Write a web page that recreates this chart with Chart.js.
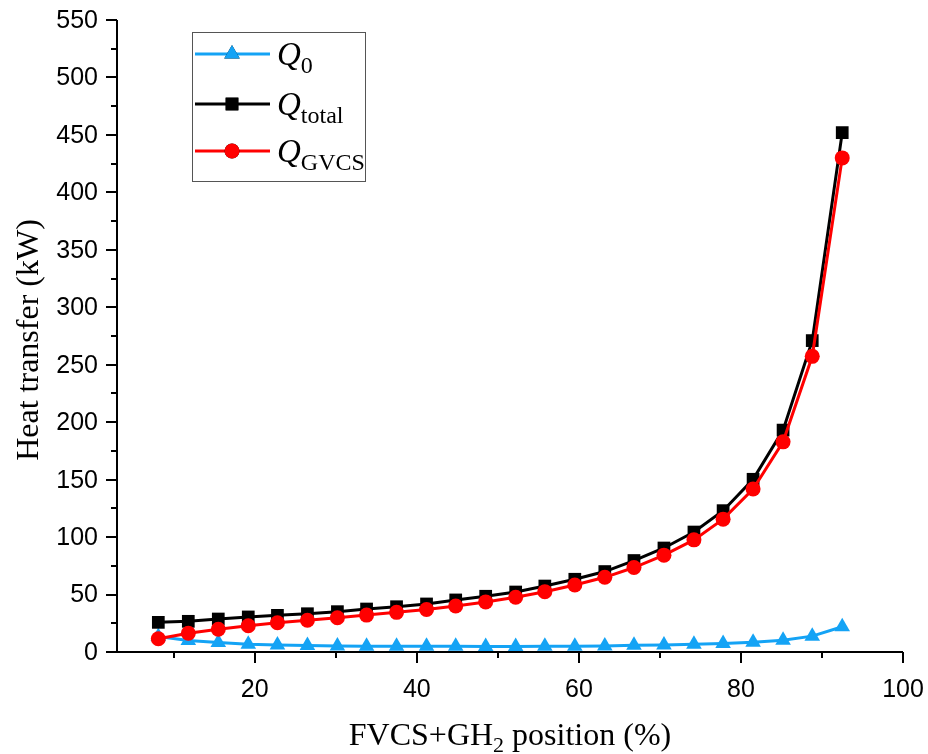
<!DOCTYPE html>
<html>
<head>
<meta charset="utf-8">
<script src="https://cdn.jsdelivr.net/npm/chart.js@4.4.1/dist/chart.umd.min.js"></script>
<style>
  html, body { margin: 0; padding: 0; background: #ffffff; }
  #wrap { width: 928px; height: 754px; }
</style>
</head>
<body>
<div id="wrap"><canvas id="c" width="928" height="754"></canvas></div>
<script>
// FVCS+GH2 position (%) for each operating point
const positions = [8.1, 11.8, 15.5, 19.2, 22.8, 26.5, 30.2, 33.8, 37.5, 41.2, 44.8, 48.5,
                   52.2, 55.8, 59.5, 63.2, 66.8, 70.5, 74.2, 77.8, 81.5, 85.2, 88.8, 92.5];
// Heat transfer (kW)
const q0     = [13.5, 10.0, 8.3, 6.8, 6.0, 5.6, 5.3, 5.1, 5.0, 4.9, 4.9, 4.8,
                4.8, 4.9, 5.0, 5.3, 5.8, 6.2, 6.8, 7.5, 8.5, 10.3, 13.8, 22.0];
const qTotal = [25.8, 26.7, 28.7, 30.5, 31.9, 33.3, 35.1, 37.4, 39.4, 41.8, 45.3, 48.5,
                52.2, 57.4, 63.3, 70.0, 79.6, 90.5, 104.4, 123.0, 150.3, 193.1, 271.0, 452.0];
const qGvcs  = [11.5, 16.3, 19.8, 22.9, 25.5, 27.6, 29.8, 32.1, 34.5, 37.0, 40.0, 43.6,
                47.6, 52.5, 58.3, 65.0, 73.5, 84.3, 97.6, 115.6, 141.9, 182.9, 257.3, 430.0];

// Axis ticks: every value gets a tick mark, labelled ones get a longer tick
const xTickValues  = [10, 20, 30, 40, 50, 60, 70, 80, 90, 100];
const xTickLabels  = [20, 40, 60, 80, 100];
const yTickValues  = [0, 25, 50, 75, 100, 125, 150, 175, 200, 225, 250, 275, 300, 325,
                      350, 375, 400, 425, 450, 475, 500, 525, 550];
const yTickLabels  = [0, 50, 100, 150, 200, 250, 300, 350, 400, 450, 500, 550];

const BLUE = '#14A3F5';
const SANS = '"Liberation Sans", Arial, sans-serif';
const SERIF = '"Liberation Serif", "Times New Roman", serif';

const toPoints = ys => positions.map((x, i) => ({ x: x, y: ys[i] }));

// Draws axis lines, tick marks, tick labels, axis titles and the legend box
const decorations = {
  id: 'decorations',
  afterDraw(chart) {
    const ctx = chart.ctx;
    const xs = chart.scales.x, ys = chart.scales.y;
    const area = chart.chartArea;
    const MAJOR = 11, MINOR = 6;
    ctx.save();
    ctx.strokeStyle = '#000';
    ctx.lineWidth = 2;
    ctx.lineCap = 'butt';

    // axis lines
    ctx.beginPath();
    ctx.moveTo(area.left, area.top);
    ctx.lineTo(area.left, area.bottom + 1);
    ctx.moveTo(area.left - 1, area.bottom);
    ctx.lineTo(area.right, area.bottom);
    ctx.stroke();

    // x ticks
    ctx.beginPath();
    xTickValues.forEach(v => {
      const px = Math.round(xs.getPixelForValue(v));
      const len = xTickLabels.includes(v) ? MAJOR : MINOR;
      ctx.moveTo(px, area.bottom);
      ctx.lineTo(px, area.bottom + len);
    });
    // y ticks
    yTickValues.forEach(v => {
      const py = Math.round(ys.getPixelForValue(v));
      const len = yTickLabels.includes(v) ? MAJOR : MINOR;
      ctx.moveTo(area.left, py);
      ctx.lineTo(area.left - len, py);
    });
    ctx.stroke();

    // tick labels
    ctx.fillStyle = '#000';
    ctx.font = '25px ' + SANS;
    ctx.textAlign = 'center';
    ctx.textBaseline = 'middle';
    xTickLabels.forEach(v => {
      ctx.fillText(String(v), xs.getPixelForValue(v), area.bottom + 38);
    });
    ctx.textAlign = 'right';
    yTickLabels.forEach(v => {
      ctx.fillText(String(v), area.left - 19, ys.getPixelForValue(v) + 1);
    });

    // x title with subscript
    const xParts = [['FVCS+GH', 32, 0], ['2', 22, 7], [' position (%)', 32, 0]];
    drawRich(ctx, xParts, (area.left + area.right) / 2, 745, SERIF, false);

    // y title
    ctx.save();
    ctx.translate(38, 340);
    ctx.rotate(-Math.PI / 2);
    ctx.font = '32px ' + SERIF;
    ctx.textAlign = 'center';
    ctx.textBaseline = 'alphabetic';
    ctx.fillText('Heat transfer (kW)', 0, 0);
    ctx.restore();

    // legend
    ctx.lineWidth = 1;
    ctx.strokeStyle = '#555';
    ctx.strokeRect(192.5, 32.5, 173, 149);
    const rows = [
      { ds: chart.data.datasets[0], y: 54, sub: '0' },
      { ds: chart.data.datasets[1], y: 104, sub: 'total' },
      { ds: chart.data.datasets[2], y: 151, sub: 'GVCS' }
    ];
    rows.forEach(r => {
      ctx.strokeStyle = r.ds.borderColor;
      ctx.lineWidth = r.ds.borderWidth;
      ctx.beginPath();
      ctx.moveTo(195, r.y);
      ctx.lineTo(270, r.y);
      ctx.stroke();
      Chart.helpers.drawPoint(ctx, {
        pointStyle: r.ds.pointStyle,
        radius: r.ds.pointRadius,
        rotation: 0,
        borderWidth: 0
      }, 232, r.y);
      ctx.fillStyle = r.ds.backgroundColor;
      ctx.fill();
      ctx.fillStyle = '#000';
      drawRich(ctx, [['Q', 33, 0, true], [r.sub, 24, 8]], 277, r.y + 11, SERIF, true);
    });
    ctx.restore();
  }
};

// Writes a run of text pieces [text, size, baselineShift, italic] starting at x (or centred)
function drawRich(ctx, parts, x, baseline, family, leftAligned) {
  ctx.textAlign = 'left';
  ctx.textBaseline = 'alphabetic';
  const fontOf = p => (p[3] ? 'italic ' : '') + p[1] + 'px ' + family;
  let total = 0;
  parts.forEach(p => { ctx.font = fontOf(p); total += ctx.measureText(p[0]).width; });
  let cx = leftAligned ? x : x - total / 2;
  parts.forEach(p => {
    ctx.font = fontOf(p);
    ctx.fillText(p[0], cx, baseline + p[2]);
    cx += ctx.measureText(p[0]).width;
  });
  return total;
}

new Chart(document.getElementById('c'), {
  type: 'line',
  data: {
    datasets: [
      {
        label: 'Q0', data: toPoints(q0), order: 2,
        borderColor: BLUE, backgroundColor: BLUE, borderWidth: 3,
        pointStyle: 'triangle', pointRadius: 9, pointBorderWidth: 0
      },
      {
        label: 'Qtotal', data: toPoints(qTotal), order: 1,
        borderColor: '#000000', backgroundColor: '#000000', borderWidth: 3,
        pointStyle: 'rect', pointRadius: 9, pointBorderWidth: 0
      },
      {
        label: 'QGVCS', data: toPoints(qGvcs), order: 0,
        borderColor: '#FF0000', backgroundColor: '#FF0000', borderWidth: 3,
        pointStyle: 'circle', pointRadius: 7.5, pointBorderWidth: 0
      }
    ]
  },
  options: {
    responsive: false,
    animation: false,
    events: [],
    layout: { padding: { top: 20, right: 25, left: 0, bottom: 0 } },
    plugins: { legend: { display: false }, tooltip: { enabled: false } },
    elements: { line: { tension: 0 } },
    scales: {
      x: {
        type: 'linear', min: 3, max: 100,
        grid: { display: false }, border: { display: false },
        ticks: { display: false },
        afterFit(scale) { scale.height = 102; }
      },
      y: {
        type: 'linear', min: 0, max: 550,
        grid: { display: false }, border: { display: false },
        ticks: { display: false },
        afterFit(scale) { scale.width = 117; }
      }
    }
  },
  plugins: [decorations]
});
</script>
</body>
</html>
